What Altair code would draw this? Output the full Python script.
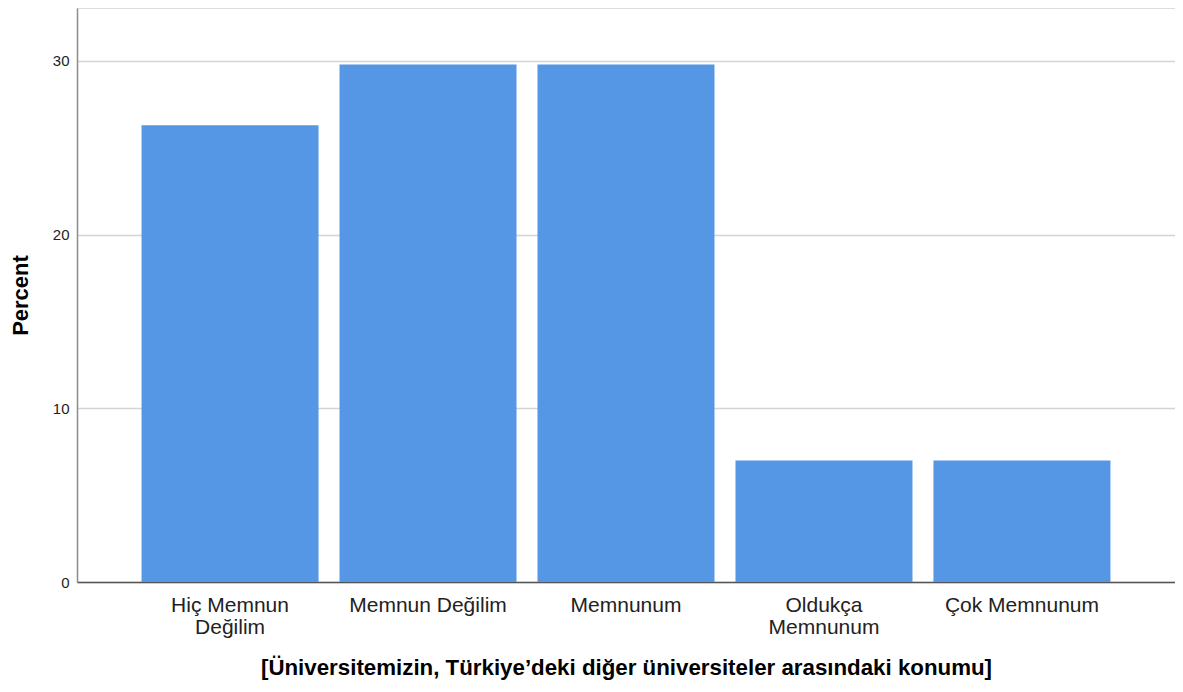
import altair as alt
import pandas as pd

categories = ["Hiç Memnun Değilim", "Memnun Değilim", "Memnunum", "Oldukça Memnunum", "Çok Memnunum"]
label_lines = [["Hiç Memnun", "Değilim"], ["Memnun Değilim"], ["Memnunum"], ["Oldukça", "Memnunum"], ["Çok Memnunum"]]
percents = [26.3, 29.8, 29.8, 7.0, 7.0]
y_ticks = [0, 10, 20, 30]

df = pd.DataFrame({"cat": categories, "pct": percents})

expr_parts = []
for c, lines in zip(categories, label_lines):
    arr = "[" + ",".join("'" + l + "'" for l in lines) + "]"
    expr_parts.append(f"datum.value == '{c}' ? {arr} : ")
label_expr = "".join(expr_parts) + "datum.label"

chart = alt.Chart(df).mark_bar(color="#5596E5").encode(
    x=alt.X("cat:N", sort=categories,
            title="[Üniversitemizin, Türkiye’deki diğer üniversiteler arasındaki konumu]",
            scale=alt.Scale(paddingInner=0.106, paddingOuter=0.326),
            axis=alt.Axis(labelExpr=label_expr, labelAngle=0, ticks=False,
                          labelFont="Liberation Sans", labelFontSize=21, labelColor="#222222",
                          labelLineHeight=22, labelPadding=12, labelLimit=300,
                          domainColor="#555555", domainWidth=1.5,
                          titleFont="Liberation Sans", titleFontSize=22.3, titleFontWeight="bold",
                          titleColor="#000000", titlePadding=19)),
    y=alt.Y("pct:Q", title="Percent",
            scale=alt.Scale(domain=[0, 33.05], nice=False),
            axis=alt.Axis(values=y_ticks, ticks=False, grid=True, gridColor="#D4D4D4", gridWidth=1.5,
                          labelFont="Liberation Sans", labelFontSize=15, labelColor="#222222",
                          labelPadding=8, domainColor="#8C8C8C", domainWidth=1.5,
                          titleFont="Liberation Sans", titleFontSize=22, titleFontWeight="bold",
                          titleColor="#000000", titlePadding=20)),
).properties(
    width=1098, height=574,
    autosize=alt.AutoSizeParams(type="none"),
    padding={"left": 69, "top": 0, "right": 0, "bottom": 100},
).configure_view(stroke=None).configure(background="white")

chart.save("out.html", embed_options={"renderer": "svg", "actions": False})
